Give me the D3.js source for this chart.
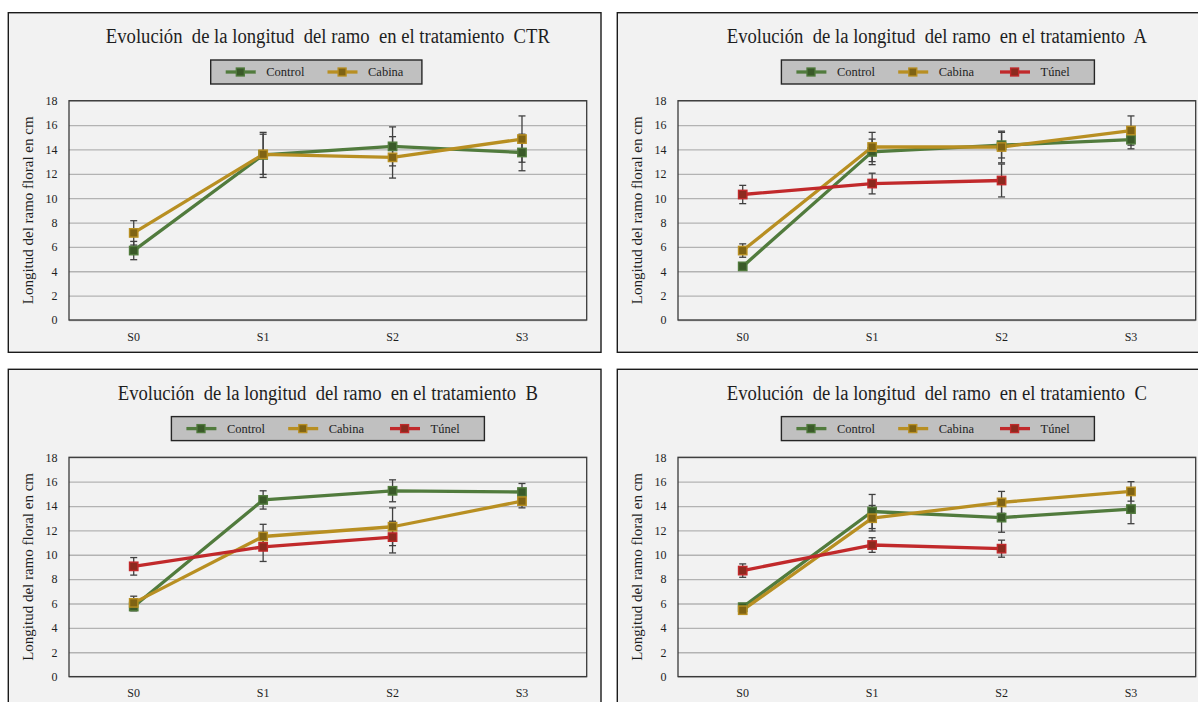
<!DOCTYPE html>
<html>
<head>
<meta charset="utf-8">
<script src="https://cdn.jsdelivr.net/npm/d3@7"></script>
<style>
  html, body { margin: 0; padding: 0; background: #ffffff; }
  svg { display: block; }
  text { font-family: "Liberation Serif", "Times New Roman", serif; fill: #1e1e1e; }
</style>
</head>
<body>
<svg id="chart" width="1198" height="702"></svg>
<script>
// ---- data -------------------------------------------------------------
const stages = ["S0", "S1", "S2", "S3"];
const seriesNames = ["Control", "Cabina", "Túnel"];
const yTicks = [0, 2, 4, 6, 8, 10, 12, 14, 16, 18];
const treatments = ["CTR", "A", "B", "C"];

// Tratamiento CTR
const ctrControl    = [5.7, 13.55, 14.25, 13.75];
const ctrControlErr = [0.75, 1.85, 1.6, 1.5];
const ctrCabina     = [7.15, 13.6, 13.35, 14.85];
const ctrCabinaErr  = [1.0, 1.65, 1.7, 1.9];

// Tratamiento A
const aControl    = [4.4, 13.8, 14.35, 14.8];
const aControlErr = [0.3, 1.05, 1.05, 0.75];
const aCabina     = [5.7, 14.2, 14.2, 15.55];
const aCabinaErr  = [0.55, 1.2, 1.3, 1.2];
const aTunel      = [10.3, 11.2, 11.45, null];
const aTunelErr   = [0.75, 0.85, 1.35, null];

// Tratamiento B
const bControl    = [5.75, 14.5, 15.25, 15.15];
const bControlErr = [0.35, 0.75, 0.9, 0.7];
const bCabina     = [6.05, 11.5, 12.3, 14.4];
const bCabinaErr  = [0.55, 1.0, 1.55, 0.55];
const bTunel      = [9.05, 10.65, 11.45, null];
const bTunelErr   = [0.72, 1.2, 1.3, null];

// Tratamiento C
const cControl    = [5.7, 13.55, 13.05, 13.75];
const cControlErr = [0.3, 1.4, 1.2, 1.2];
const cCabina     = [5.45, 13.0, 14.3, 15.2];
const cCabinaErr  = [0.25, 1.05, 0.9, 0.8];
const cTunel      = [8.7, 10.8, 10.5, null];
const cTunelErr   = [0.55, 0.6, 0.7, null];

// ---- styling ----------------------------------------------------------
const seriesStyle = {
  "Control": { line: "#517b3d", fill: "#3a5a29" },
  "Cabina":  { line: "#b88f22", fill: "#7f6314" },
  "Túnel":   { line: "#c1292b", fill: "#8c2a1f" }
};

const panels = [
  { treatment: treatments[0], origin: [8.3, 12.7], legendLeft: 202.4,
    series: [
      { name: seriesNames[0], values: ctrControl, err: ctrControlErr },
      { name: seriesNames[1], values: ctrCabina, err: ctrCabinaErr }
    ] },
  { treatment: treatments[1], origin: [617.3, 12.7], legendLeft: 164.1,
    series: [
      { name: seriesNames[0], values: aControl, err: aControlErr },
      { name: seriesNames[1], values: aCabina, err: aCabinaErr },
      { name: seriesNames[2], values: aTunel, err: aTunelErr }
    ] },
  { treatment: treatments[2], origin: [8.3, 369.3], legendLeft: 163.1,
    series: [
      { name: seriesNames[0], values: bControl, err: bControlErr },
      { name: seriesNames[1], values: bCabina, err: bCabinaErr },
      { name: seriesNames[2], values: bTunel, err: bTunelErr }
    ] },
  { treatment: treatments[3], origin: [617.3, 369.3], legendLeft: 164.1,
    series: [
      { name: seriesNames[0], values: cControl, err: cControlErr },
      { name: seriesNames[1], values: cCabina, err: cCabinaErr },
      { name: seriesNames[2], values: cTunel, err: cTunelErr }
    ] }
];

const panelW = 592.7, panelH = 339.6;
const plot = { left: 60.7, top: 88, width: 517.7, height: 219.3 };

const svg = d3.select("#chart");

panels.forEach(p => {
  const g = svg.append("g").attr("transform", `translate(${p.origin[0]},${p.origin[1]})`);

  // frame of the chart area
  g.append("rect")
    .attr("x", 0).attr("y", 0)
    .attr("width", panelW).attr("height", panelH)
    .attr("fill", "#f2f2f2")
    .attr("stroke", "#1b1b1b").attr("stroke-width", 1.4);

  const x = d3.scaleBand().domain(stages)
    .range([plot.left, plot.left + plot.width]);
  const y = d3.scaleLinear().domain([0, 18])
    .range([plot.top + plot.height, plot.top]);
  const cx = s => x(s) + x.bandwidth() / 2;

  // title (slightly condensed serif)
  const title = g.append("text")
    .attr("x", plot.left + plot.width / 2)
    .attr("y", 30.6)
    .attr("text-anchor", "middle")
    .attr("xml:space", "preserve")
    .style("font-size", "20.5px")
    .style("white-space", "pre")
    .text(`Evolución  de la longitud  del ramo  en el tratamiento  ${p.treatment}`);
  const natural = title.node().getComputedTextLength();
  title.attr("textLength", natural * 0.91).attr("lengthAdjust", "spacingAndGlyphs");

  // legend
  const lg = g.append("g").attr("transform", `translate(${p.legendLeft},47.3)`);
  const entryStep = 101.8;
  lg.append("rect")
    .attr("x", 0).attr("y", 0)
    .attr("width", p.series.length * entryStep + 7.6)
    .attr("height", 24)
    .attr("fill", "#c0c0c0")
    .attr("stroke", "#262626").attr("stroke-width", 1.4);
  p.series.forEach((s, i) => {
    const st = seriesStyle[s.name];
    const e = lg.append("g").attr("transform", `translate(${i * entryStep},12)`);
    e.append("line")
      .attr("x1", 15).attr("x2", 45).attr("y1", 0).attr("y2", 0)
      .attr("stroke", st.line).attr("stroke-width", 3.3);
    e.append("rect")
      .attr("x", 29.6 - 4).attr("y", -4).attr("width", 8).attr("height", 8)
      .attr("fill", st.fill).attr("stroke", st.line).attr("stroke-width", 1.3);
    e.append("text")
      .attr("x", 55.5).attr("y", 4.3)
      .style("font-size", "12.5px")
      .text(s.name);
  });

  // gridlines + y tick labels
  const yAxis = g.append("g")
    .attr("transform", `translate(${plot.left},0)`)
    .call(d3.axisLeft(y).tickValues(yTicks).tickSize(-plot.width).tickPadding(11.5));
  yAxis.select(".domain").remove();
  yAxis.selectAll(".tick line")
    .attr("stroke", "#b3b3b3").attr("stroke-width", 1.3);
  yAxis.selectAll(".tick text")
    .style("font-size", "12px")
    .style("font-family", "\"Liberation Serif\", serif")
    .attr("fill", "#1e1e1e");

  // x category labels
  const xAxis = g.append("g")
    .attr("transform", `translate(0,${plot.top + plot.height})`)
    .call(d3.axisBottom(x).tickSize(0).tickPadding(12));
  xAxis.select(".domain").remove();
  xAxis.selectAll(".tick text")
    .style("font-size", "12px")
    .style("font-family", "\"Liberation Serif\", serif")
    .attr("fill", "#1e1e1e");

  // plot frame
  g.append("rect")
    .attr("x", plot.left).attr("y", plot.top)
    .attr("width", plot.width).attr("height", plot.height)
    .attr("fill", "none")
    .attr("stroke", "#3a3a3a").attr("stroke-width", 1.3);

  // y axis title
  g.append("text")
    .attr("transform", `translate(19.7,${plot.top + plot.height / 2}) rotate(-90)`)
    .attr("text-anchor", "middle")
    .attr("dy", "0.35em")
    .style("font-size", "15px")
    .text("Longitud del ramo floral en cm");

  const line = d3.line()
    .defined(d => d.v != null)
    .x(d => cx(d.stage))
    .y(d => y(d.v));

  const pts = s => stages.map((st, i) => ({ stage: st, v: s.values[i], e: s.err[i] }))
    .filter(d => d.v != null);

  // series lines
  p.series.forEach(s => {
    g.append("path")
      .datum(stages.map((st, i) => ({ stage: st, v: s.values[i] })))
      .attr("d", line)
      .attr("fill", "none")
      .attr("stroke", seriesStyle[s.name].line)
      .attr("stroke-width", 3.3)
      .attr("stroke-linejoin", "round");
  });

  // error bars
  p.series.forEach(s => {
    const eb = g.append("g");
    pts(s).forEach(d => {
      const xc = cx(d.stage);
      eb.append("line")
        .attr("x1", xc).attr("x2", xc)
        .attr("y1", y(d.v - d.e)).attr("y2", y(d.v + d.e))
        .attr("stroke", "#404040").attr("stroke-width", 1.3);
      [d.v - d.e, d.v + d.e].forEach(v => {
        eb.append("line")
          .attr("x1", xc - 3.5).attr("x2", xc + 3.5)
          .attr("y1", y(v)).attr("y2", y(v))
          .attr("stroke", "#404040").attr("stroke-width", 1.3);
      });
    });
  });

  // markers
  p.series.forEach(s => {
    const st = seriesStyle[s.name];
    g.append("g").selectAll("rect")
      .data(pts(s))
      .join("rect")
      .attr("x", d => cx(d.stage) - 4.2)
      .attr("y", d => y(d.v) - 4.2)
      .attr("width", 8.4).attr("height", 8.4)
      .attr("fill", st.fill)
      .attr("stroke", st.line).attr("stroke-width", 1.4);
  });
});
</script>
</body>
</html>
